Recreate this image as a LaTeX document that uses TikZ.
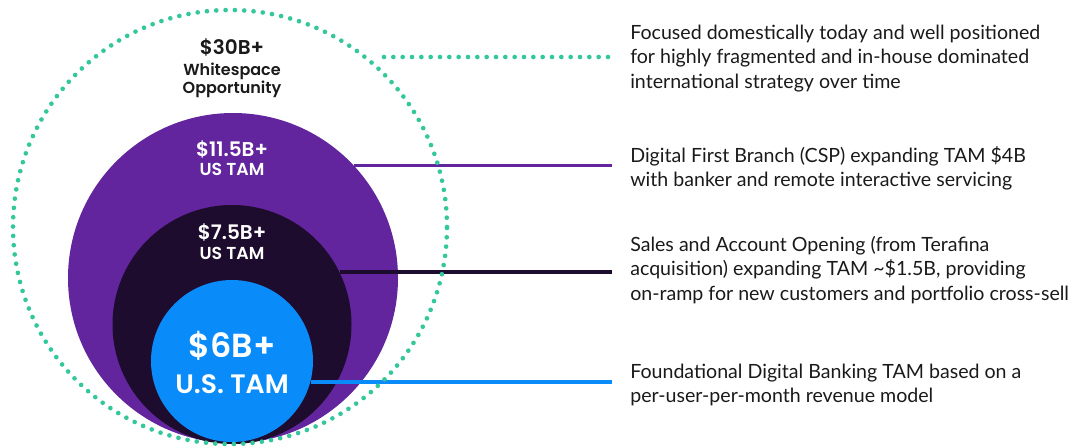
\documentclass[tikz,border=0pt]{standalone}
\usepackage{fontspec}
\setmainfont{Lato}
\newfontfamily\labelfont{Poppins}[BoldFont={Poppins SemiBold}]
\definecolor{cpurple}{HTML}{62259E}
\definecolor{cdark}{HTML}{1E0C2E}
\definecolor{cblue}{HTML}{0A8BFA}
\definecolor{cgreen}{HTML}{35C79C}
\definecolor{ctext}{HTML}{1A1A1A}
\tikzset{
  ring/.style={circle, inner sep=0pt, draw=none},
  dotring/.style={circle, inner sep=0pt, draw=cgreen, line width=3.5pt, line cap=round, dash pattern=on 0pt off 7pt},
  dotline/.style={draw=cgreen, line width=3.5pt, line cap=round, dash pattern=on 0pt off 7pt},
  conn/.style={line width=2.5pt},
  desc/.style={anchor=north west, inner sep=0pt, align=left, font=\fontsize{14.7pt}{18.2pt}\selectfont, text=ctext},
  lbl/.style={inner sep=0pt, anchor=base},
}
\begin{document}
\begin{tikzpicture}[x=0.75pt,y=-0.75pt]
\useasboundingbox (0,0) rectangle (1077,447);
% circles
\node[ring, fill=cpurple, minimum size=247.5pt] (P) at (233,278) {};
\node[ring, fill=cdark, minimum size=179.25pt] (D) at (232,324.5) {};
\node[ring, fill=cblue, minimum size=121.5pt] (B) at (232,361) {};
% labels
\node[lbl, text=ctext, font=\labelfont\bfseries\fontsize{15pt}{15pt}\selectfont] (l30) at (232,54) {\$30B+};
\node[lbl, text=ctext, font=\labelfont\bfseries\fontsize{12pt}{12pt}\selectfont] (lws) at (232,75) {Whitespace};
\node[lbl, text=ctext, font=\labelfont\bfseries\fontsize{12pt}{12pt}\selectfont] (lop) at (232,93) {Opportunity};
\node[lbl, text=white, font=\labelfont\bfseries\fontsize{15pt}{15pt}\selectfont] (l11) at (232,156) {\$11.5B+};
\node[lbl, text=white, font=\labelfont\bfseries\fontsize{13pt}{13pt}\selectfont] (lu1) at (232,175) {US TAM};
\node[lbl, text=white, font=\labelfont\bfseries\fontsize{15pt}{15pt}\selectfont] (l7) at (232,239) {\$7.5B+};
\node[lbl, text=white, font=\labelfont\bfseries\fontsize{13pt}{13pt}\selectfont] (lu2) at (232,259) {US TAM};
\node[lbl, text=white, font=\labelfont\bfseries\fontsize{25pt}{25pt}\selectfont] (l6) at (232,357) {\$6B+};
\node[lbl, text=white, font=\labelfont\bfseries\fontsize{20pt}{20pt}\selectfont] (lu3) at (232,393) {U.S. TAM};
% descriptions
\node[desc] (t1) at (630,25) {Focused domestically today and well positioned\\for highly fragmented and in-house dominated\\international strategy over time};
\node[desc] (t2) at (630,146) {Digital First Branch (CSP) expanding TAM \$4B\\with banker and remote interactive servicing};
\node[desc] (t3) at (630,236) {Sales and Account Opening (from Terafina\\acquisition) expanding TAM \textasciitilde\$1.5B, providing\\on-ramp for new customers and portfolio cross-sell};
\node[desc] (t4) at (630,364) {Foundational Digital Banking TAM based on a\\per-user-per-month revenue model};
% connector ends
\coordinate (e0) at (612,57);
\coordinate (s0) at (384,57);
\coordinate (e1) at (612,164);
\coordinate (e2) at (612,272);
\coordinate (e3) at (612,383);
\draw[conn, cpurple] (P.43.8) -- (P.43.8 -| e1);
\draw[conn, cdark] (D.26.1) -- (D.26.1 -| e2);
\draw[conn, cblue] (B.-15.7) -- (B.-15.7 -| e3);
% outer dotted ring
\node[dotring, minimum size=325.5pt] (W) at (230,227) {};
\draw[dotline] (s0) -- (e0);
\end{tikzpicture}
\end{document}
